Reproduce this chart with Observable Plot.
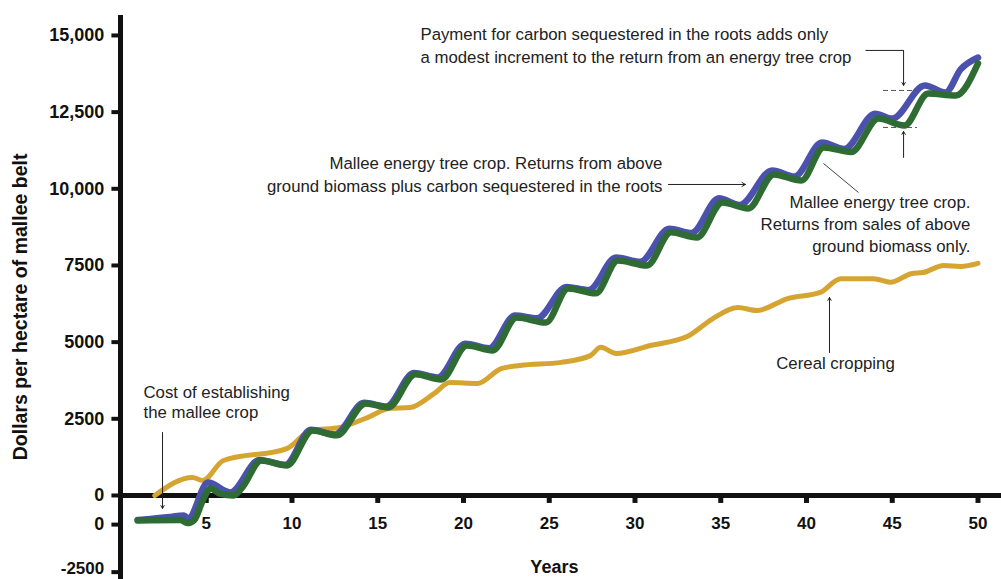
<!DOCTYPE html>
<html>
<head>
<meta charset="utf-8">
<script src="https://cdn.jsdelivr.net/npm/d3@7"></script>
<script src="https://cdn.jsdelivr.net/npm/@observablehq/plot@0.6"></script>
<style>
  html, body { margin: 0; padding: 0; background: #fff; }
  #chart svg { display: block; }
</style>
</head>
<body>
<div id="chart"></div>
<script>
// ---- data ----
const blueYears  = [1.0, 2.9, 3.7, 3.95, 5.1, 6.4, 8.1, 9.6, 11.1, 12.5, 14.2, 15.5, 17.1, 18.5, 20.1, 21.5, 23.0, 24.3, 26.0, 27.3, 28.9, 30.3, 32.0, 33.3, 34.9, 36.1, 38.0, 39.3, 40.9, 42.2, 44.0, 45.0, 46.9, 48.1, 49.0, 50.0];
const blueValues = [-800, -700, -650, -750, 420, 100, 1160, 1000, 2140, 1990, 3020, 2900, 3990, 3850, 4950, 4800, 5870, 5780, 6800, 6700, 7760, 7620, 8700, 8560, 9690, 9470, 10600, 10400, 11510, 11300, 12450, 12290, 13370, 13140, 13900, 14280];

const greenYears  = [1.0, 3.5, 3.9, 4.3, 4.8, 5.25, 5.8, 6.6, 7.1, 8.2, 9.7, 11.2, 12.6, 14.3, 15.6, 17.2, 18.7, 20.2, 21.7, 23.1, 24.8, 26.1, 27.7, 29.0, 30.7, 32.1, 33.6, 35.1, 36.6, 38.1, 39.7, 41.0, 42.6, 44.2, 45.7, 47.1, 48.7, 50.0];
const greenValues = [-815, -800, -900, -800, -160, 230, 60, 0, 260, 1140, 980, 2120, 1960, 3000, 2870, 3950, 3780, 4890, 4730, 5800, 5640, 6750, 6590, 7660, 7500, 8580, 8410, 9550, 9360, 10470, 10270, 11350, 11200, 12290, 12060, 13110, 13040, 14090];

const cerealYears  = [2.0, 4.2, 4.8, 6.0, 9.7, 11.1, 12.8, 14.4, 15.7, 16.9, 18.3, 19.2, 20.8, 22.2, 23.3, 25.7, 27.4, 28.0, 28.9, 30.9, 33.1, 34.5, 36.0, 37.1, 38.9, 40.8, 42.0, 43.9, 44.9, 46.1, 46.8, 48.0, 49.0, 50.0];
const cerealValues = [0, 590, 490, 1140, 1530, 2120, 2220, 2540, 2840, 2870, 3330, 3680, 3650, 4140, 4240, 4340, 4560, 4830, 4630, 4890, 5200, 5750, 6130, 6030, 6420, 6620, 7070, 7070, 6950, 7230, 7270, 7500, 7470, 7570];

const xTicks = [5, 10, 15, 20, 25, 30, 35, 40, 45, 50];
const yTicks = [15000, 12500, 10000, 7500, 5000, 2500, 0, -950, -2500];
const yTickLabels = ["15,000", "12,500", "10,000", "7500", "5000", "2500", "0", "0", "-2500"];

const toRows = (ys, vs) => ys.map((x, i) => ({x, y: vs[i]}));
const blue = toRows(blueYears, blueValues);
const green = toRows(greenYears, greenValues);
const cereal = toRows(cerealYears, cerealValues);
const yLabelRows = yTicks.map((v, i) => ({v, label: yTickLabels[i]}));

const FONT = "'Liberation Sans', Arial, Helvetica, sans-serif";
const INK = "#111";
const TXT = "#222";
const FS = 16.8;

const chart = Plot.plot({
  width: 1001,
  height: 579,
  marginLeft: 120,
  marginRight: 0,
  marginTop: 0,
  marginBottom: 0,
  style: {fontFamily: FONT, background: "#fff"},
  x: {domain: [0, 51.37], axis: null},
  y: {domain: [-2740, 16140], axis: null},
  marks: [
    // axes lines
    Plot.ruleY([0], {x1: 0, x2: 51.37, stroke: INK, strokeWidth: 5}),
    Plot.ruleX([0], {y1: -2740, y2: 15650, stroke: INK, strokeWidth: 5}),
    // y ticks & labels
    Plot.ruleY(yTicks, {x1: -0.5, x2: 0, stroke: INK, strokeWidth: 4}),
    Plot.text(yLabelRows.filter(d => d.v > -2500), {x: -0.95, y: "v", text: "label", textAnchor: "end", fontWeight: "bold", fontSize: 18, fill: INK}),
    Plot.text(yLabelRows.filter(d => d.v <= -2500), {x: -0.95, y: "v", text: "label", textAnchor: "end", fontWeight: "bold", fontSize: 17, dy: -4, fill: INK}),
    // x ticks & labels
    Plot.ruleX(xTicks, {y1: 0, y2: -260, stroke: INK, strokeWidth: 5}),
    Plot.text(xTicks, {x: d => d, y: -920, text: d => String(d), fontWeight: "bold", fontSize: 17, fill: INK}),
    // axis titles
    Plot.text(["Years"], {x: 25.3, y: -2330, text: d => d, fontWeight: "bold", fontSize: 18, fill: INK}),
    Plot.text(["Dollars per hectare of mallee belt"], {x: -5.83, y: 6150, text: d => d, rotate: -90, fontWeight: "bold", fontSize: 19.5, fill: INK}),

    // series
    Plot.line(cereal, {x: "x", y: "y", stroke: "#d6a431", strokeWidth: 5, curve: "monotone-x"}),
    Plot.line(blue, {x: "x", y: "y", stroke: "#4a52ad", strokeWidth: 6.5, curve: "monotone-x"}),
    Plot.line(green, {x: "x", y: "y", stroke: "#2f6c33", strokeWidth: 6.5, curve: "monotone-x"}),

    // annotations
    Plot.text(["Cost of establishing\nthe mallee crop"], {x: 1.34, y: 3650, text: d => d, textAnchor: "start", lineAnchor: "top", lineHeight: 1.2, fontSize: FS, fill: TXT}),
    Plot.arrow([0], {x1: 2.45, y1: 2054, x2: 2.45, y2: -424, stroke: TXT, strokeWidth: 1, headLength: 5}),

    Plot.text(["Mallee energy tree crop. Returns from above\nground biomass plus carbon sequestered in the roots"], {x: 31.6, y: 11200, text: d => d, textAnchor: "end", lineAnchor: "top", lineHeight: 1.4, fontSize: FS, fill: TXT}),
    Plot.arrow([0], {x1: 31.95, y1: 10141, x2: 36.44, y2: 10141, stroke: TXT, strokeWidth: 1, headLength: 6}),

    Plot.text(["Mallee energy tree crop.\nReturns from sales of above\nground biomass only."], {x: 49.56, y: 9880, text: d => d, textAnchor: "end", lineAnchor: "top", lineHeight: 1.3, fontSize: FS, fill: TXT}),
    Plot.link([0], {x1: 40.99, y1: 10826, x2: 43.03, y2: 9880, stroke: "#444", strokeWidth: 1}),

    Plot.text(["Payment for carbon sequestered in the roots adds only\na modest increment to the return from an energy tree crop"], {x: 17.49, y: 15380, text: d => d, textAnchor: "start", lineAnchor: "top", lineHeight: 1.35, fontSize: FS, fill: TXT}),
    Plot.link([0], {x1: 43.44, y1: 14512, x2: 45.66, y2: 14512, stroke: TXT, strokeWidth: 1}),
    Plot.arrow([0], {x1: 45.66, y1: 14512, x2: 45.66, y2: 13370, stroke: TXT, strokeWidth: 1, headLength: 5}),
    Plot.ruleY([13206, 12000], {x1: 44.49, x2: 46.47, stroke: "#555", strokeWidth: 1, strokeDasharray: "5,3"}),
    Plot.arrow([0], {x1: 45.66, y1: 11022, x2: 45.66, y2: 11870, stroke: TXT, strokeWidth: 1, headLength: 5}),

    Plot.text(["Cereal cropping"], {x: 41.69, y: 4304, text: d => d, fontSize: FS, fill: TXT}),
    Plot.arrow([0], {x1: 41.34, y1: 4663, x2: 41.34, y2: 6456, stroke: TXT, strokeWidth: 1, headLength: 5})
  ]
});
document.getElementById("chart").appendChild(chart);
</script>
</body>
</html>
